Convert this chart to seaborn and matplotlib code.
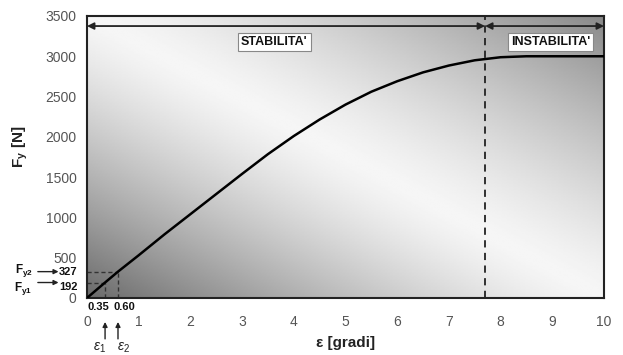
import numpy as np
import pandas as pd
import matplotlib
matplotlib.use("Agg")
import matplotlib.pyplot as plt
import seaborn as sns

# ---- data ----
eps = [0, 0.35, 0.6, 1, 1.5, 2, 2.5, 3, 3.5, 4, 4.5, 5, 5.5, 6, 6.5, 7, 7.5, 8, 8.5, 9, 9.5, 10]
fy = [0, 192, 327, 530, 790, 1040, 1290, 1540, 1785, 2010, 2215, 2400, 2560, 2690, 2800, 2885, 2950, 2988, 3000, 3000, 3000, 3000]
eps_marks = [0.35, 0.60]
eps_mark_labels = ["0.35", "0.60"]
eps_names = [r"$\varepsilon_1$", r"$\varepsilon_2$"]
fy_marks = [192, 327]
fy_mark_labels = ["192", "327"]
fy_names = [r"$\mathbf{F_{y1}}$", r"$\mathbf{F_{y2}}$"]
eps_crit = 7.7
region_labels = ["STABILITA'", "INSTABILITA'"]
x_ticks = list(range(0, 11))
y_ticks = list(range(0, 3501, 500))

sns.set_theme(style="white")
plt.rcParams["font.family"] = ["Liberation Sans", "DejaVu Sans"]
plt.rcParams["mathtext.fontset"] = "custom"
plt.rcParams["mathtext.rm"] = "Liberation Sans"
plt.rcParams["mathtext.it"] = "Liberation Sans:italic"
plt.rcParams["mathtext.bf"] = "Liberation Sans:bold"

fig = plt.figure(figsize=(6.23, 3.55), dpi=100)
ax = fig.add_axes([0.1396, 0.1606, 0.8299, 0.7944])

# background gradient
nu, nv = 300, 200
u = np.linspace(0, 1, nu)[None, :]
v = np.linspace(0, 1, nv)[:, None]
s = u + v - 1
g = 246 - 140 * np.clip(-s, 0, None) ** 1.3 - 110 * np.clip(s, 0, None) ** 1.3
ax.imshow(g, cmap="gray", vmin=0, vmax=255, origin="lower",
          extent=[0, 10, 0, 3500], aspect="auto", zorder=0)

df = pd.DataFrame({"eps": eps, "fy": fy})
sns.lineplot(data=df, x="eps", y="fy", ax=ax, color="black", lw=1.8, zorder=3)

ax.set_xlim(0, 10)
ax.set_ylim(0, 3500)
ax.set_xticks(x_ticks)
ax.set_yticks(y_ticks)
ax.tick_params(axis="both", direction="inout", length=7, width=1.5, color="black",
               labelcolor="#555555", labelsize=10)
ax.tick_params(axis="x", pad=9)
ax.tick_params(axis="y", pad=4)
for sp in ax.spines.values():
    sp.set_visible(True)
    sp.set_color("#222222")
    sp.set_linewidth(1.5)

ax.set_xlabel("ε [gradi]", fontsize=11, fontweight="bold", color="#222222")
ax.set_ylabel(r"$\mathbf{F_y}$ [N]", fontsize=11, fontweight="bold", color="#222222")
ax.xaxis.set_label_coords(0.5, -0.135)
ax.yaxis.set_label_coords(-0.11, 0.535)

# critical line
ax.axvline(eps_crit, color="#222222", lw=1.3, ls=(0, (4, 3)), zorder=2)

# dashed guides
for e, f in zip(eps_marks, fy_marks):
    ax.plot([e, e], [0, f], color="#333333", lw=1, ls=(0, (3, 2)), zorder=2)
    ax.plot([0, e], [f, f], color="#333333", lw=1, ls=(0, (3, 2)), zorder=2)

# top arrows
y_arr = 3375
ax.annotate("", xy=(0, y_arr), xytext=(eps_crit, y_arr),
            arrowprops=dict(arrowstyle="<|-|>", color="#222222", lw=1.3,
                            mutation_scale=10, shrinkA=0, shrinkB=0), zorder=4)
ax.annotate("", xy=(eps_crit, y_arr), xytext=(10, y_arr),
            arrowprops=dict(arrowstyle="<|-|>", color="#222222", lw=1.3,
                            mutation_scale=10, shrinkA=0, shrinkB=0), zorder=4)
box = dict(boxstyle="square,pad=0.25", fc="white", ec="#888888", lw=0.8)
ax.text(3.62, 3175, region_labels[0], ha="center", va="center", fontsize=9,
        fontweight="bold", color="#111111", bbox=box, zorder=5)
ax.text(8.97, 3175, region_labels[1], ha="center", va="center", fontsize=9,
        fontweight="bold", color="#111111", bbox=box, zorder=5)

xt = ax.get_xaxis_transform()
yt = ax.get_yaxis_transform()

# x annotations
ax.annotate(eps_mark_labels[0], xy=(eps_marks[0], -0.032), xycoords=xt,
            xytext=(3, 0), textcoords="offset points", ha="right", va="center",
            fontsize=8, fontweight="bold", color="#111111", annotation_clip=False)
ax.annotate(eps_mark_labels[1], xy=(eps_marks[1], -0.032), xycoords=xt,
            xytext=(-3, 0), textcoords="offset points", ha="left", va="center",
            fontsize=8, fontweight="bold", color="#111111", annotation_clip=False)
for i, (e, name) in enumerate(zip(eps_marks, eps_names)):
    dx = -4 if i == 0 else 4
    ax.annotate("", xy=(e, -0.085), xycoords=xt, xytext=(e, -0.145), textcoords=xt,
                arrowprops=dict(arrowstyle="-|>", color="#222222", lw=1,
                                mutation_scale=7, shrinkA=0, shrinkB=0),
                annotation_clip=False)
    ax.annotate(name, xy=(e, -0.175), xycoords=xt, xytext=(dx, 0),
                textcoords="offset points", ha="center", va="center", fontsize=10,
                color="#222222", annotation_clip=False)

# y annotations
for i, (f, lab, name) in enumerate(zip(fy_marks, fy_mark_labels, fy_names)):
    dy = -3 if i == 0 else 0
    dyn = -4.5 if i == 0 else 1
    ax.annotate(lab, xy=(-0.018, f), xycoords=yt, xytext=(0, dy),
                textcoords="offset points", ha="right", va="center", fontsize=8,
                fontweight="bold", color="#111111", annotation_clip=False)
    ax.annotate("", xy=(-0.055, f), xycoords=yt, xytext=(-0.095, f), textcoords=yt,
                arrowprops=dict(arrowstyle="-|>", color="#222222", lw=1,
                                mutation_scale=7, shrinkA=0, shrinkB=0),
                annotation_clip=False)
    ax.annotate(name, xy=(-0.105, f), xycoords=yt, xytext=(0, dyn),
                textcoords="offset points", ha="right", va="center", fontsize=8.5,
                color="#111111", annotation_clip=False)

fig.savefig("out.png", dpi=100)
